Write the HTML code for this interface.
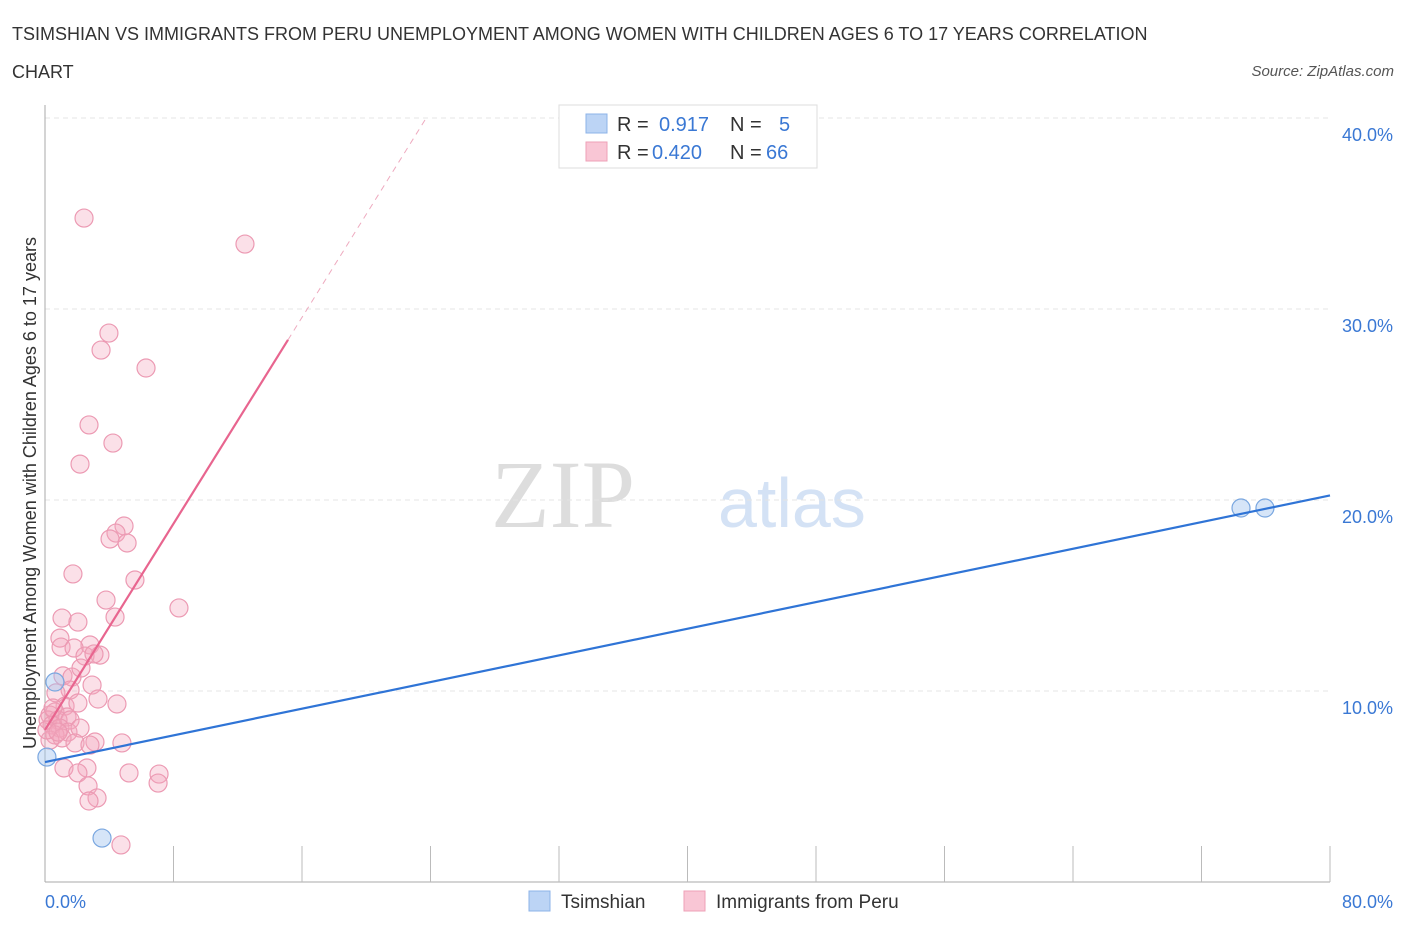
<!DOCTYPE html>
<html><head><meta charset="utf-8"><style>
body{margin:0;background:#fff;font-family:"Liberation Sans",sans-serif;}
svg text{font-family:"Liberation Sans",sans-serif;}
</style></head><body>
<svg width="1406" height="930" xmlns="http://www.w3.org/2000/svg">
<text x="12" y="40" font-size="18" fill="#333">TSIMSHIAN VS IMMIGRANTS FROM PERU UNEMPLOYMENT AMONG WOMEN WITH CHILDREN AGES 6 TO 17 YEARS CORRELATION</text>
<text x="12" y="78" font-size="18" fill="#333">CHART</text>
<text x="1394" y="76" font-size="15" fill="#555" font-style="italic" text-anchor="end">Source: ZipAtlas.com</text>
<g>
<text x="635" y="527" font-size="96" fill="#ddd" text-anchor="end" font-family="Liberation Serif" style="font-family:'Liberation Serif',serif">ZIP</text>
<text x="718" y="527" font-size="70" fill="#d4e2f5">atlas</text>
</g>
<g id="grid"></g>
<g id="axes"></g>
<g id="marks"></g>
<text x="36" y="493" font-size="18" fill="#333" text-anchor="middle" transform="rotate(-90 36 493)">Unemployment Among Women with Children Ages 6 to 17 years</text>
<g>
<rect x="559" y="105" width="258" height="63" fill="#fff" stroke="#ddd"/>
<rect x="586" y="114" width="21" height="19" fill="#bcd4f5" stroke="#8db3e8"/>
<rect x="586" y="142" width="21" height="19" fill="#f9c6d5" stroke="#eea0b7"/>
<text x="617" y="131" font-size="20" fill="#333">R =</text><text x="659" y="131" font-size="20" fill="#3a78d4">0.917</text>
<text x="730" y="131" font-size="20" fill="#333">N =</text><text x="779" y="131" font-size="20" fill="#3a78d4">5</text>
<text x="617" y="159" font-size="20" fill="#333">R =</text><text x="652" y="159" font-size="20" fill="#3a78d4">0.420</text>
<text x="730" y="159" font-size="20" fill="#333">N =</text><text x="766" y="159" font-size="20" fill="#3a78d4">66</text>
</g>
<g>
<rect x="529" y="891" width="21" height="20" fill="#bcd4f5" stroke="#8db3e8"/>
<text x="561" y="908" font-size="19" fill="#333">Tsimshian</text>
<rect x="684" y="891" width="21" height="20" fill="#f9c6d5" stroke="#eea0b7"/>
<text x="716" y="908" font-size="19" fill="#333">Immigrants from Peru</text>
</g>
</svg>
<script>
const yTicks=[10,20,30,40];
const yTickLabels=["10.0%","20.0%","30.0%","40.0%"];
const xTickLabels=["0.0%","80.0%"];
const peruX=[2.43,12.45,3.98,3.49,6.29,2.74,4.23,2.18,4.92,4.42,4.05,5.11,1.74,5.60,3.80,8.34,1.06,4.36,2.05,0.93,2.80,1.00,1.81,3.42,2.49,3.05,1.12,1.68,2.24,2.93,1.56,0.68,4.48,3.30,1.25,2.05,0.62,1.37,0.31,0.19,0.81,1.56,0.44,0.93,1.43,2.18,0.62,1.06,0.31,1.87,3.11,2.80,4.79,1.18,2.61,2.05,5.23,2.68,7.10,7.04,3.24,2.74,4.73,0.12,0.50,0.81];
const peruY=[34.76,33.40,28.74,27.85,26.91,23.93,22.98,21.88,18.64,18.27,17.96,17.75,16.13,15.81,14.76,14.35,13.82,13.87,13.61,12.77,12.41,12.30,12.25,11.88,11.83,11.94,10.79,10.73,11.20,10.31,10.05,9.90,9.32,9.58,9.21,9.37,8.90,8.64,8.74,8.48,8.48,8.48,8.22,8.06,7.85,8.06,7.70,7.54,7.43,7.28,7.33,7.17,7.28,5.97,5.97,5.71,5.71,5.03,5.65,5.18,4.40,4.24,1.94,7.96,9.11,7.85];
const tsimX=[0.62,0.12,3.55,74.46,75.95];
const tsimY=[10.47,6.54,2.30,19.58,19.58];
const tsimFit=[6.28,0.1745];
const peruFit=[7.96,1.35];
const NS="http://www.w3.org/2000/svg";
const X=v=>45+v*1285/80, Y=v=>882-v*19.1;
function mk(tag,attrs,parent){const e=document.createElementNS(NS,tag);for(const k in attrs)e.setAttribute(k,attrs[k]);document.getElementById(parent).appendChild(e);return e;}
yTicks.forEach((t,i)=>{
 const g=mk('line',{x1:45,x2:1330,y1:Y(t),y2:Y(t),stroke:'#e4e4e4','stroke-dasharray':'5,4'},'grid');
 
 
 const tx=mk('text',{x:1393,y:Y(t)+23,'font-size':18,fill:'#3a78d4','text-anchor':'end'},'axes');tx.textContent=yTickLabels[i];
 
 
});
let ax=mk('line',{x1:45,x2:45,y1:105,y2:882,stroke:'#aaa'},'axes');


ax=mk('line',{x1:45,x2:1330,y1:882,y2:882,stroke:'#aaa'},'axes');


for(let i=1;i<=10;i++){const t=mk('line',{x1:X(i*8),x2:X(i*8),y1:846,y2:882,stroke:'#bbb'},'axes');
 
 }
let t0=mk('text',{x:45,y:908,'font-size':18,fill:'#3a78d4'},'axes');t0.textContent=xTickLabels[0];


t0=mk('text',{x:1393,y:908,'font-size':18,fill:'#3a78d4','text-anchor':'end'},'axes');t0.textContent=xTickLabels[1];


peruX.forEach((x,i)=>{const c=mk('circle',{cx:X(x),cy:Y(peruY[i]),r:9,fill:'rgba(244,165,190,0.35)',stroke:'#ec9ab3','stroke-width':1.2},'marks');
 
 });
tsimX.forEach((x,i)=>{const c=mk('circle',{cx:X(x),cy:Y(tsimY[i]),r:9,fill:'rgba(165,198,240,0.45)',stroke:'#7aa7e0','stroke-width':1.2},'marks');
 
 });
let l=mk('line',{x1:X(0),y1:Y(tsimFit[0]),x2:X(80),y2:Y(tsimFit[0]+tsimFit[1]*80),stroke:'#2f74d6','stroke-width':2.2},'marks');


const xs=15.13, xe=(40-peruFit[0])/peruFit[1];
l=mk('line',{x1:X(0),y1:Y(peruFit[0]),x2:X(xs),y2:Y(peruFit[0]+peruFit[1]*xs),stroke:'#e8658f','stroke-width':2.2},'marks');


l=mk('line',{x1:X(xs),y1:Y(peruFit[0]+peruFit[1]*xs),x2:X(xe),y2:Y(40),stroke:'#eeaabf','stroke-width':1,'stroke-dasharray':'6,5'},'marks');


</script>
</body></html>
